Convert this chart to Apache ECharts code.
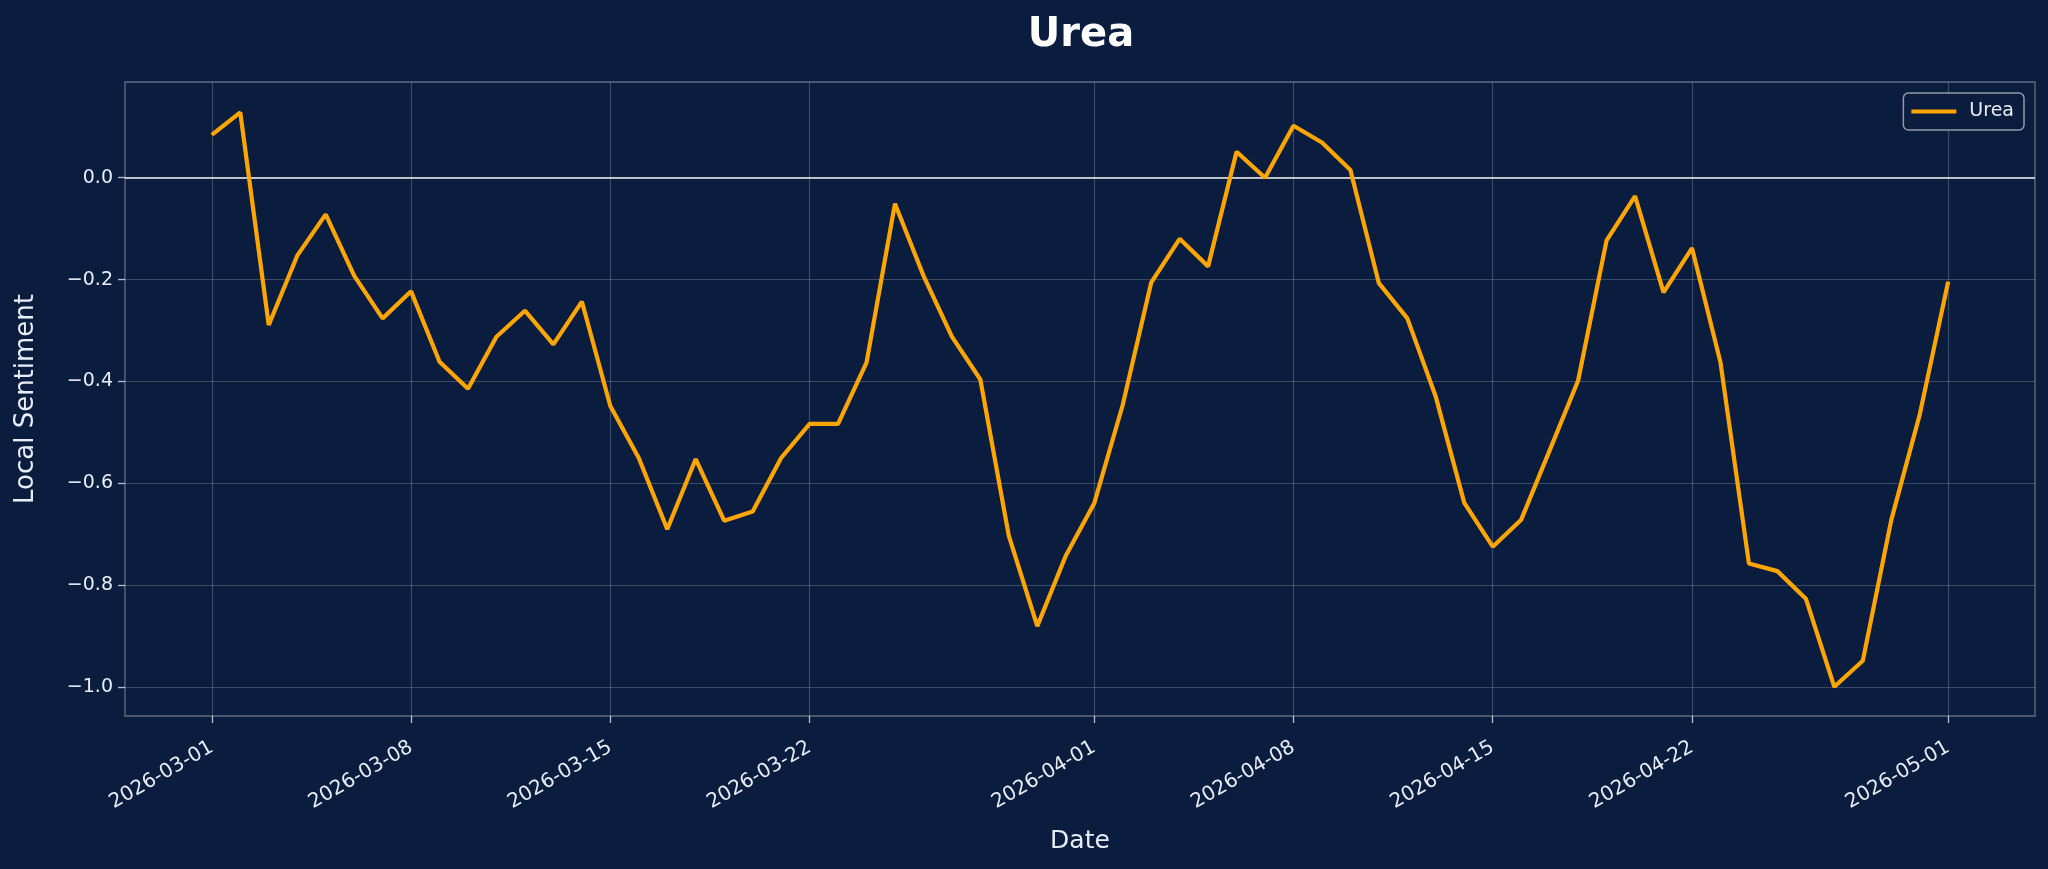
<!DOCTYPE html>
<html>
<head>
<meta charset="utf-8">
<script src="https://cdn.jsdelivr.net/npm/echarts@6/dist/echarts.min.js"></script>
<style>
  html, body { margin: 0; padding: 0; background: #0b1d3e; }
  #chart { width: 2048px; height: 869px; }
</style>
</head>
<body>
<div id="chart"></div>
<script>
// daily values, 2026-03-01 .. 2026-05-01
var startDay = '2026-03-01'
var sentiment = [
    0.084, 0.128, -0.289, -0.153, -0.072, -0.192, -0.276,
    -0.223, -0.361, -0.414, -0.312, -0.261, -0.327, -0.243,
    -0.448, -0.550, -0.690, -0.552, -0.673, -0.655, -0.550,
    -0.483, -0.483, -0.363, -0.051, -0.192, -0.312, -0.396,
    -0.703, -0.880, -0.742, -0.639, -0.446, -0.206, -0.120,
    -0.174, 0.051, 0.000, 0.102, 0.069, 0.015, -0.207,
    -0.276, -0.430, -0.638, -0.724, -0.671, -0.535, -0.398,
    -0.123, -0.036, -0.225, -0.138, -0.362, -0.757, -0.772,
    -0.826, -0.999, -0.948, -0.672, -0.465, -0.204
]
var tickDates = ['2026-03-01', '2026-03-08', '2026-03-15', '2026-03-22', '2026-04-01',
    '2026-04-08', '2026-04-15', '2026-04-22', '2026-05-01']
var yTicks = [-1.0, -0.8, -0.6, -0.4, -0.2, 0.0]

var DAY = 86400000

var toTime = function (s) {
    var p = s.split('-')
    return Date.UTC(+p[0], +p[1] - 1, +p[2])
}

var pad = function (n) { return n < 10 ? '0' + n : '' + n }

var fmtDate = function (t) {
    var d = new Date(t)
    return d.getUTCFullYear() + '-' + pad(d.getUTCMonth() + 1) + '-' + pad(d.getUTCDate())
}

var t0 = toTime(startDay)
var points = sentiment.map(function (v, i) { return [t0 + i * DAY, v] })
var tFirst = points[0][0]
var tLast = points[points.length - 1][0]
var xPad = (tLast - tFirst) * 0.05
var xTicks = tickDates.map(toTime)

var textColor = '#e8ecf4'
var gridColor = 'rgba(255,255,255,0.2)'
var font = 'DejaVu Sans'

var chart = echarts.init(document.getElementById('chart'))

var option = {
    backgroundColor: '#0b1d3e',
    animation: false,
    title: {
        text: 'Urea',
        left: 1076,
        textAlign: 'center',
        top: 11,
        textStyle: { color: '#ffffff', fontFamily: font, fontWeight: 'bold', fontSize: 40 }
    },
    legend: {
        right: 24,
        top: 93,
        data: ['Urea'],
        icon: 'rect',
        itemWidth: 45,
        itemHeight: 4,
        padding: [9, 10, 9, 8],
        borderColor: 'rgba(255,255,255,0.55)',
        borderWidth: 1.5,
        borderRadius: 5,
        backgroundColor: '#0b1d3e',
        textStyle: { color: textColor, fontFamily: font, fontSize: 19, padding: [0, 0, 0, 8] }
    },
    grid: {
        left: 125,
        right: 13,
        top: 82,
        bottom: 153,
        show: true,
        borderColor: 'rgba(255,255,255,0.35)',
        borderWidth: 1.3
    },
    xAxis: {
        type: 'value',
        min: tFirst - xPad,
        max: tLast + xPad,
        name: 'Date',
        nameLocation: 'middle',
        nameGap: 113,
        nameTextStyle: { color: textColor, fontFamily: font, fontSize: 25 },
        axisLine: { show: false, onZero: false },
        axisTick: {
            show: true, length: 7, inside: false,
            lineStyle: { color: 'rgba(255,255,255,0.7)', width: 1.3 },
            customValues: xTicks
        },
        axisLabel: {
            color: textColor, fontFamily: font, fontSize: 20,
            rotate: 30, margin: 30,
            customValues: xTicks,
            formatter: function (v) { return fmtDate(v) }
        },
        splitLine: { show: true, lineStyle: { color: gridColor, width: 1.2 } }
    },
    yAxis: {
        type: 'value',
        min: -1.0563,
        max: 0.1878,
        name: 'Local Sentiment',
        nameLocation: 'middle',
        nameGap: 86,
        nameTextStyle: { color: textColor, fontFamily: font, fontSize: 26 },
        axisLine: { show: false, onZero: false },
        axisTick: {
            show: true, length: 7, inside: false,
            lineStyle: { color: 'rgba(255,255,255,0.7)', width: 1.3 },
            customValues: yTicks
        },
        axisLabel: {
            color: textColor, fontFamily: font, fontSize: 19, margin: 12,
            customValues: yTicks,
            formatter: function (v) { return v.toFixed(1).replace('-', '\u2212') }
        },
        splitLine: { show: true, lineStyle: { color: gridColor, width: 1.2 } }
    },
    series: [{
        name: 'Urea',
        type: 'line',
        data: points,
        showSymbol: false,
        symbol: 'none',
        z: 3,
        lineStyle: { color: '#FFA500', width: 4.2 },
        itemStyle: { color: '#FFA500' },
        markLine: {
            silent: true,
            symbol: 'none',
            z: 1,
            label: { show: false },
            lineStyle: { color: 'rgba(255,255,255,0.7)', width: 2, type: 'solid' },
            data: [{ yAxis: 0 }]
        }
    }]
}

chart.setOption(option)
</script>
</body>
</html>
